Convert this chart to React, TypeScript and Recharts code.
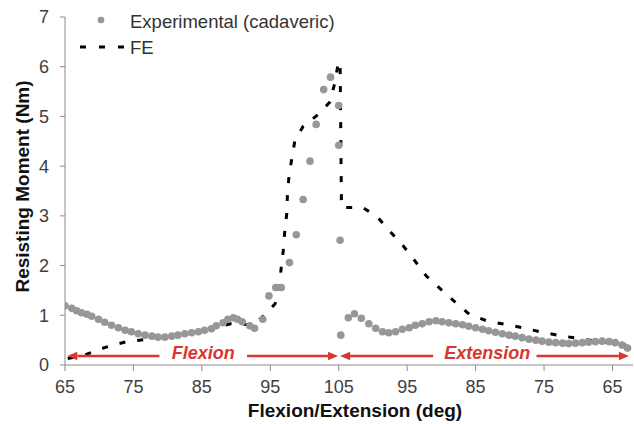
import React from 'react'
import { ComposedChart, XAxis, YAxis, Line, Scatter, ReferenceLine, ReferenceDot } from 'recharts'

// x position along the test path: 0 = 65 deg flexion, 40 = 105 deg, 80 = 65 deg extension
const tickPos = [0, 10, 20, 30, 40, 50, 60, 70, 80]
const tickLabels = ['65', '75', '85', '95', '105', '95', '85', '75', '65']
const yTicks = [0, 1, 2, 3, 4, 5, 6, 7]

const expPos = [
  0, 1, 1.7, 2.4, 3.2, 3.9, 4.9, 5.8, 6.8, 7.8, 8.8, 9.7, 10.7, 11.7, 12.7, 13.6, 14.6, 15.6, 16.5, 17.5,
  18.5, 19.5, 20.4, 21.4, 22.1, 23.1, 23.8, 24.6, 25.2, 25.9, 27, 27.7, 28.9, 29.8, 30.8, 31.6, 32.8, 33.8,
  34.8, 35.8, 36.7, 37.8, 38.8, 40, 40, 40.2, 40.3,
  41.4, 42.3, 43.3, 44.4, 45.4, 46.4, 47.3, 48.3, 49.3, 50.3, 51.2, 52.2, 53.2, 54.2, 55.1, 56.1, 57.1,
  58.1, 59, 60, 61, 61.9, 62.9, 63.9, 64.9, 65.8, 66.8, 67.8, 68.8, 69.7, 70.7, 71.7, 72.7, 73.6, 74.6,
  75.6, 76.5, 77.5, 78.5, 79.5, 80.4, 81.4, 82.2,
]
const expMoment = [
  1.19, 1.14, 1.09, 1.05, 1.02, 0.98, 0.92, 0.86, 0.8, 0.75, 0.7, 0.67, 0.63, 0.6, 0.58, 0.56, 0.56, 0.58, 0.6, 0.63,
  0.65, 0.67, 0.7, 0.73, 0.79, 0.85, 0.92, 0.95, 0.92, 0.87, 0.79, 0.74, 0.92, 1.39, 1.56, 1.56, 2.06, 2.62,
  3.33, 4.1, 4.84, 5.54, 5.79, 5.22, 4.42, 2.51, 0.6,
  0.95, 1.03, 0.94, 0.83, 0.74, 0.67, 0.65, 0.67, 0.72, 0.75, 0.8, 0.83, 0.87, 0.89, 0.87, 0.85, 0.83,
  0.81, 0.78, 0.75, 0.72, 0.69, 0.66, 0.63, 0.6, 0.58, 0.55, 0.52, 0.5, 0.48, 0.46, 0.45, 0.44, 0.43, 0.44,
  0.45, 0.46, 0.47, 0.48, 0.47, 0.45, 0.4, 0.34,
]

const fePos = [
  0.4, 3, 6, 9, 11.5, 14, 17, 20, 22.5, 24.2, 26, 27.5, 29.2, 30.7, 31.3, 31.6, 31.9, 32.1, 32.4, 32.5,
  32.7, 33.1, 33.6, 34.8, 37, 38.7, 39.4, 39.9, 40.2, 40.4,
  43.5, 45.7, 47.4, 49.4, 51.1, 52.8, 54.7, 56.9, 59.1, 61.6, 64.2, 66.9, 69.3, 72, 74.7, 77.5, 80, 82,
]
const feMoment = [
  0.13, 0.21, 0.36, 0.47, 0.51, 0.55, 0.61, 0.68, 0.77, 0.83, 0.82, 0.8, 1.01, 1.23, 1.59, 1.96, 2.31, 2.67, 3.04, 3.41,
  3.75, 4.12, 4.52, 4.8, 5.04, 5.29, 5.66, 6.05, 6.1, 3.17,
  3.17, 2.97, 2.7, 2.4, 2.1, 1.79, 1.55, 1.28, 1.02, 0.89, 0.82, 0.75, 0.67, 0.6, 0.54, 0.48, 0.44, 0.4,
]

const expData = expPos.map((p, i) => ({ p, m: expMoment[i] }))
const feData = fePos.map((p, i) => ({ p, m: feMoment[i] }))

const ARROW_Y = 0.18
const RED = '#d7372f'
const FONT = '"Liberation Sans", Arial, sans-serif'

const arrow = (dir: 'left' | 'right') => (props: any) => {
  const { x1, y1, x2 } = props
  const lo = Math.min(x1, x2)
  const hi = Math.max(x1, x2)
  const tip = dir === 'left' ? lo : hi
  const back = dir === 'left' ? tip + 10 : tip - 10
  return (
    <g>
      <line x1={dir === 'left' ? back : lo} x2={dir === 'left' ? hi : back} y1={y1} y2={y1} stroke={RED} strokeWidth={2.6} />
      <polygon points={`${tip},${y1} ${back},${y1 - 4.2} ${back},${y1 + 4.2}`} fill={RED} />
    </g>
  )
}

const redLabel = (text: string) => (props: any) => (
  <text x={props.cx} y={props.cy + 3} textAnchor="middle" fill={RED} fontSize={18} fontWeight="bold"
    fontStyle="italic" fontFamily={FONT}>{text}</text>
)

export default function App() {
  return (
    <div style={{ position: 'absolute', left: 0, top: 0, width: 634, height: 424, background: '#fff' }}>
      <ComposedChart width={634} height={424} margin={{ top: 17, right: 1, bottom: 29, left: 0 }}
        style={{ fontFamily: FONT }}>
        <XAxis type="number" dataKey="p" domain={[0, 83]} ticks={tickPos} allowDataOverflow height={30}
          tickFormatter={(v: number) => tickLabels[tickPos.indexOf(v)] ?? ''}
          stroke="#8a8a8a" tickSize={6} tickMargin={9}
          tick={{ fill: '#404040', fontSize: 18, fontFamily: FONT }}
          label={{
            content: () => (
              <text x={355} y={417} textAnchor="middle" fontSize={19} fontWeight="bold" fill="#111"
                fontFamily={FONT}>Flexion/Extension (deg)</text>
            ),
          }} />
        <YAxis type="number" dataKey="m" domain={[0, 7]} ticks={yTicks} width={65}
          stroke="#8a8a8a" tickSize={5} tickMargin={11}
          tick={{ fill: '#404040', fontSize: 18, fontFamily: FONT }}
          label={{
            content: () => (
              <text x={28.5} y={186.5} transform="rotate(-90 28.5 186.5)" textAnchor="middle" fontSize={19}
                fontWeight="bold" fill="#111" fontFamily={FONT}>Resisting Moment (Nm)</text>
            ),
          }} />
        <Line data={feData} dataKey="m" type="linear" stroke="#000" strokeWidth={3} strokeDasharray="6 12"
          dot={false} activeDot={false} isAnimationActive={false} />
        <Scatter data={expData} dataKey="m" isAnimationActive={false}
          shape={(props: any) => <circle cx={props.cx} cy={props.cy} r={3.8} fill="#979797" />} />
        <ReferenceLine segment={[{ x: 0.34, y: ARROW_Y }, { x: 13.8, y: ARROW_Y }]} shape={arrow('left')} />
        <ReferenceLine segment={[{ x: 26.6, y: ARROW_Y }, { x: 39.9, y: ARROW_Y }]} shape={arrow('right')} />
        <ReferenceLine segment={[{ x: 40.2, y: ARROW_Y }, { x: 53.8, y: ARROW_Y }]} shape={arrow('left')} />
        <ReferenceLine segment={[{ x: 68.9, y: ARROW_Y }, { x: 82.4, y: ARROW_Y }]} shape={arrow('right')} />
        <ReferenceDot x={20.2} y={ARROW_Y} r={0} shape={redLabel('Flexion')} />
        <ReferenceDot x={61.7} y={ARROW_Y} r={0} shape={redLabel('Extension')} />
      </ComposedChart>
      <svg width={420} height={70} style={{ position: 'absolute', left: 0, top: 0 }}>
        <circle cx={101} cy={20} r={3.3} fill="#979797" />
        <text x={130} y={27.5} fontSize={18.5} fill="#333" fontFamily={FONT}>Experimental (cadaveric)</text>
        <line x1={80} x2={124} y1={47} y2={47} stroke="#000" strokeWidth={3} strokeDasharray="6 13" />
        <text x={130} y={54} fontSize={18.5} fill="#333" fontFamily={FONT}>FE</text>
      </svg>
    </div>
  )
}
